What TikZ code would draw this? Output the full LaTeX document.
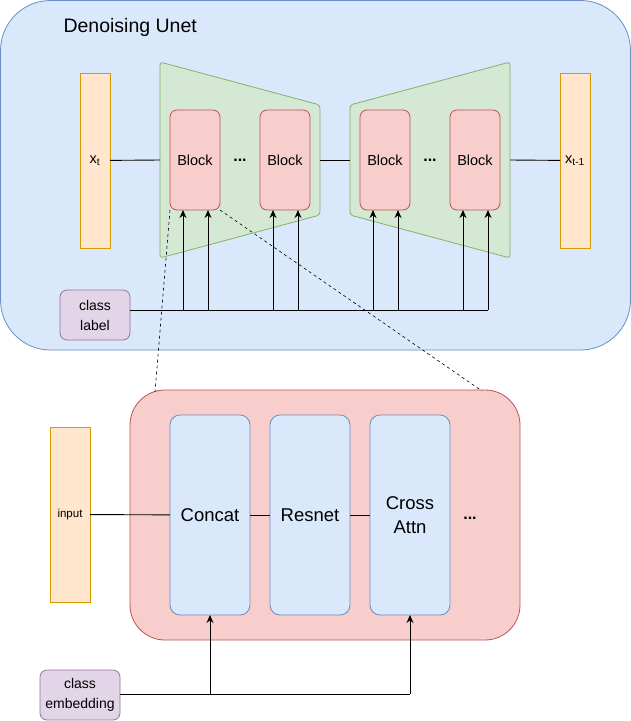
\documentclass[tikz,border=0pt]{standalone}
\usepackage{fontspec}
\setmainfont{Liberation Sans}
\usepackage{xcolor}
\definecolor{unetFill}{HTML}{DAE8FC}
\definecolor{unetLine}{HTML}{6C8EBF}
\definecolor{stageFill}{HTML}{D5E8D4}
\definecolor{stageLine}{HTML}{82B366}
\definecolor{blockFill}{HTML}{F8CECC}
\definecolor{blockLine}{HTML}{B85450}
\definecolor{dataFill}{HTML}{FFE6CC}
\definecolor{dataLine}{HTML}{D79B00}
\definecolor{condFill}{HTML}{E1D5E7}
\definecolor{condLine}{HTML}{9673A6}
\usetikzlibrary{
    arrows.meta,
    positioning,
    calc
}
\tikzset{
    % Base style for all boxes
    box base/.style={
        draw,
        line width=0.8pt,
        align=center,
        inner sep=0pt,
        outer sep=0pt,
        font=\fontsize{14.5}{18}\selectfont,
    },
    % Feature maps x_t, x_{t-1}, input
    tensor/.style={
        box base,
        fill=dataFill,
        draw=dataLine,
        minimum width=30pt,
        minimum height=175pt,
    },
    % Unet blocks
    block/.style={
        box base,
        rounded corners=7pt,
        fill=blockFill,
        draw=blockLine,
        minimum width=50pt,
        minimum height=100pt,
    },
    % Layers inside one block
    layer/.style={
        box base,
        rounded corners=10pt,
        fill=unetFill,
        draw=unetLine,
        minimum width=80pt,
        minimum height=200pt,
        font=\fontsize{18.5}{24}\selectfont,
    },
    % Class conditioning boxes
    cond/.style={
        box base,
        rounded corners=7pt,
        fill=condFill,
        draw=condLine,
        minimum height=50pt,
        font=\fontsize{14}{20}\selectfont,
    },
    % Encoder / decoder trapezoids
    stage/.style={
        fill=stageFill,
        draw=stageLine,
        line width=0.8pt,
        rounded corners=3pt,
    },
    % Plain connector
    link/.style={
        line width=0.9pt,
        draw=black,
    },
    % Conditioning arrow
    arrow/.style={
        link,
        -{Stealth[length=8pt, width=7pt]},
    },
    % Zoom lines
    zoom line/.style={
        dashed,
        line width=0.6pt,
    },
    dots/.style={
        font=\fontsize{16}{16}\selectfont\bfseries,
    },
}

\begin{document}
\begin{tikzpicture}[x=1pt, y=-1pt]
    \useasboundingbox (0,0) rectangle (631,721);

    % Denoising Unet
    \draw [fill=unetFill, draw=unetLine, line width=0.8pt, rounded corners=50pt]
        (0.5,0.5) rectangle (630.5,350);
    \node (title) [anchor=west, font=\fontsize{19.5}{20}\selectfont] at (60,27) {Denoising Unet};

    \path [stage] (160,62) -- (320,105) -- (320,215) -- (160,258) -- cycle;
    \path [stage] (350,105) -- (510,62) -- (510,258) -- (350,215) -- cycle;
    \coordinate (encIn) at (160,160);
    \coordinate (encOut) at (320,160);
    \coordinate (decIn) at (350,160);
    \coordinate (decOut) at (510,160);

    \node (xt) [tensor] at (95,160.5) {x\textsubscript{t}};
    \node (xprev) [tensor] at (575,160.5) {x\textsubscript{t-1}};

    \node (b1) [block] at (195,160) {Block};
    \node (b2) [block, right=40pt of b1] {Block};
    \node (b3) [block, right=50pt of b2] {Block};
    \node (b4) [block, right=40pt of b3] {Block};
    \node (dots1) [dots] at ($(b1)!0.5!(b2)$) {...};
    \node (dots2) [dots] at ($(b3)!0.5!(b4)$) {...};

    \node (classlbl) [cond, minimum width=70pt] at (95,315) {class\\label};

    \draw [link] (xt) -- (encIn);
    \draw [link] (encOut) -- (decIn);
    \draw [link] (decOut) -- (xprev);

    \foreach \b in {b1,b2,b3,b4} {
        \path ([xshift=-12pt]\b.south) coordinate (\b-l)
              ([xshift=13pt]\b.south) coordinate (\b-r);
        \draw [arrow] (\b-l |- 0,310) -- (\b-l);
        \draw [arrow] (\b-r |- 0,310) -- (\b-r);
    }
    \draw [link] (classlbl.east |- 0,310) -- (b4-r |- 0,310);

    % One block in detail
    \node (detail) [draw=blockLine, fill=blockFill, line width=0.8pt, rounded corners=35pt,
        minimum width=390pt, minimum height=250pt, outer sep=0pt] at (325,515) {};
    \node (input) [tensor, minimum width=40pt, font=\fontsize{11.5}{14}\selectfont] at (70,514.5) {input};
    \node (concat) [layer] at (210,515) {Concat};
    \node (resnet) [layer, right=20pt of concat] {Resnet};
    \node (attn) [layer, right=20pt of resnet] {Cross\\Attn};
    \node (dots3) [dots] at (470,518) {...};

    \node (classemb) [cond, minimum width=80pt] at (80,695) {class\\embedding};

    \draw [link] (input) -- (concat);
    \draw [link] (concat) -- (resnet);
    \draw [link] (resnet) -- (attn);
    \draw [link] (classemb.east |- 0,694) -- (attn.south |- 0,694);
    \draw [arrow] (concat.south |- 0,694) -- (concat.south);
    \draw [arrow] (attn.south |- 0,694) -- (attn.south);

    \draw [zoom line] (b1.south west) -- ([xshift=25pt, yshift=-2pt]detail.north west);
    \draw [zoom line] (b1.south east) -- ([xshift=-38pt, yshift=-1pt]detail.north east);
\end{tikzpicture}
\end{document}
